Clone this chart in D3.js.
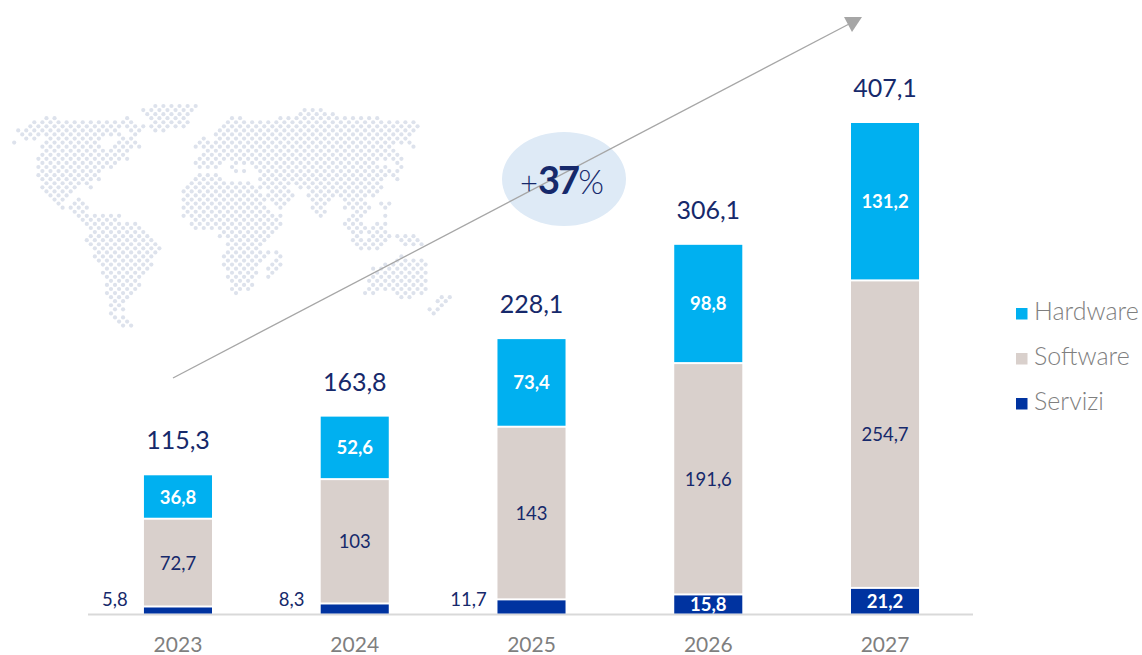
<!DOCTYPE html>
<html><head><meta charset="utf-8">
<script src="https://cdn.jsdelivr.net/npm/d3@7"></script>
<style>html,body{margin:0;background:#fff}svg{display:block}text{font-family:Lato,"Noto Sans",sans-serif}</style>
</head><body><svg id="c" width="1142" height="655"></svg>
<script>
const years=["2023","2024","2025","2026","2027"];
const servizi=[5.8,8.3,11.7,15.8,21.2];
const software=[72.7,103,143,191.6,254.7];
const hardware=[36.8,52.6,73.4,98.8,131.2];
const totals=[115.3,163.8,228.1,306.1,407.1];
const seriesNames=["Servizi","Software","Hardware"];
const seriesColors=["#0033a0","#d9d0cc","#00b0f0"];
const legendOrder=["Hardware","Software","Servizi"];
const growth=["+","37","%"];
// World map dot silhouette: [row, from, to] in the map's own grid units
const mapSpans=[[48,466,590],[60,430,575],[72,442,575],[85,454,550],[97,465,565],[109,450,550],[121,465,490],
[85,130,160],[85,365,395],[97,95,300],[97,320,410],[109,85,430],[121,60,130],[121,145,340],[121,390,420],[133,50,110],[133,145,330],[133,355,360],[133,395,415],[145,70,100],[145,145,310],[145,355,400],[157,38,38],[157,145,300],[157,345,415],[170,130,305],[170,335,420],[182,130,385],[182,415,415],[194,130,370],[206,120,385],[218,120,350],[230,120,330],[243,120,310],[255,120,300],[267,120,290],[279,130,270],[292,130,240],[292,270,285],[304,145,215],[316,145,205],[328,160,200],[328,230,240],[340,170,190],[340,215,250],[352,185,265],[365,220,265],
[377,230,360],[389,245,350],[401,255,265],[401,285,410],[413,275,415],[425,270,425],[438,265,440],[450,265,470],[462,265,470],[474,275,485],[486,285,470],[498,280,460],[511,295,450],[523,305,460],[535,315,440],[547,315,430],[559,320,420],[571,320,415],[584,320,420],[596,320,405],[608,315,395],[620,325,385],[632,330,370],[644,325,365],[657,335,375],[669,325,345],[681,340,385],[693,350,385],[705,365,395],
[60,915,970],[72,905,1005],[85,695,725],[85,845,1145],[97,685,1245],[109,670,1265],[121,660,1250],[133,650,1240],[145,605,625],[145,660,1220],[157,595,635],[157,650,1240],[170,585,1170],[170,1230,1235],[182,610,1180],[182,1240,1240],[194,600,1190],[206,590,1205],[218,585,660],[218,710,1130],[218,1190,1205],[230,600,650],[230,680,690],[230,760,1150],[230,1190,1205],[243,710,740],[243,770,1170],[243,1190,1200],[255,600,650],[255,780,1125],[255,1150,1180],[267,570,670],[267,780,1140],[267,1190,1205],[279,560,760],[279,790,1130],[279,1190,1190],[292,560,765],[292,780,860],[292,890,1145],[304,550,775],[304,805,860],[304,925,1140],[316,550,780],[316,805,875],[316,925,1120],[328,550,790],[328,805,860],[328,940,1000],[328,1020,1100],[340,550,790],[340,815,860],[340,955,990],[340,1030,1110],[340,1150,1165],[352,550,800],[352,830,845],[352,940,970],[352,1040,1110],[352,1150,1165],[365,550,800],[365,955,970],[365,1065,1105],[377,550,810],[377,845,850],[377,965,970],[377,1060,1095],[377,1150,1170],
[389,575,840],[389,1040,1080],[401,575,850],[401,1040,1080],[401,1130,1150],[413,585,620],[413,640,830],[413,1050,1090],[413,1115,1160],[425,660,820],[425,1065,1090],[425,1110,1170],[438,660,810],[438,1065,1085],[438,1110,1180],[438,1195,1205],[438,1220,1250],[450,680,790],[450,1065,1110],[450,1115,1165],[450,1210,1260],[462,680,790],[462,1075,1145],[462,1220,1280],[474,680,770],[474,1090,1140],[474,1285,1290],
[486,680,800],[498,675,795],[511,670,780],[523,675,780],[535,685,770],[547,685,770],[559,690,760],[571,695,760],[584,695,765],[596,700,755],[608,710,715],
[486,830,840],[498,840,850],[511,825,840],[523,815,850],[535,805,830],[547,805,820],[559,810,810],
[486,1200,1205],[498,1190,1215],[511,1180,1260],[523,1160,1270],[535,1125,1280],[547,1115,1280],[559,1115,1280],[571,1110,1290],[584,1125,1260],[596,1105,1270],[608,1100,1135],[608,1185,1260],[620,1210,1240],[632,1225,1230],
[608,1345,1350],[620,1330,1365],[632,1320,1345],[644,1310,1335],[657,1295,1320],[669,1285,1310]];

const svg=d3.select("#c");
const navy="#16296b", grey="#7f7f7f";

// map
const mapX=d3.scaleLinear().domain([0,1410]).range([0,470]);
const mapY=d3.scaleLinear().domain([0,750]).range([90,340]);
const dots=[];
mapSpans.forEach(([y,a,b])=>{
  const r=Math.round((y-48)/12.2), off=(r%2===0)?466%24.2:454%24.2;
  for(let k=0;k<60;k++){const x=off+24.2*k; if(x>=a-7&&x<=b+7) dots.push([x,48+12.2*r]);}
});
svg.append("g").selectAll("circle").data(dots).join("circle")
  .attr("cx",d=>mapX(d[0])).attr("cy",d=>mapY(d[1])).attr("r",2.1).attr("fill","#dde2ec");

// scales
const x=d3.scaleBand().domain(years).range([89.5,973.5]).paddingInner(0.615).paddingOuter(0.308);
const y=d3.scaleLinear().domain([0,407.1]).range([613.5,122]);
const table=years.map((yr,i)=>({year:yr,Servizi:servizi[i],Software:software[i],Hardware:hardware[i]}));
const stacked=d3.stack().keys(seriesNames)(table);
const color=d3.scaleOrdinal(seriesNames,seriesColors);

// ellipse
svg.append("ellipse").attr("cx",564).attr("cy",179).attr("rx",62).attr("ry",47).attr("fill","#deeaf6");

// arrow
svg.append("line").attr("x1",173).attr("y1",378).attr("x2",851).attr("y2",23)
 .attr("stroke","#a6a6a6").attr("stroke-width",1.3);
svg.append("path").attr("d",d3.line()([[844,17],[862,17],[852,32]])+"Z").attr("fill","#a6a6a6");

// growth label
const gt=svg.append("text").attr("x",562).attr("y",194).attr("text-anchor","middle").attr("fill",navy);
gt.append("tspan").text(growth[0]).attr("font-size",31).attr("font-weight",300);
gt.append("tspan").text(growth[1]).attr("font-size",38).attr("font-weight",700).attr("letter-spacing",-2);
gt.append("tspan").text(growth[2]).attr("font-size",33).attr("font-weight",300);

// axis baseline
svg.append("line").attr("x1",88).attr("x2",973).attr("y1",614.5).attr("y2",614.5).attr("stroke","#d9d9d9").attr("stroke-width",2);

// bars
const fmt=v=>String(v).replace(".",",");
stacked.forEach(s=>{
  svg.append("g").selectAll("rect").data(s).join("rect")
   .attr("x",d=>x(d.data.year)).attr("width",x.bandwidth())
   .attr("y",d=>y(d[1])+1).attr("height",d=>Math.max(0,y(d[0])-y(d[1])-(s.key==="Servizi"?1:2)))
   .attr("fill",color(s.key));
});

// inside labels
stacked.forEach(s=>{
  svg.append("g").selectAll("text").data(s.filter(d=>!(s.key==="Servizi"&&d[1]<12))).join("text")
   .attr("x",d=>x(d.data.year)+x.bandwidth()/2).attr("y",d=>(y(d[0])+y(d[1]))/2+7)
   .attr("text-anchor","middle").attr("font-size",18.5)
   .attr("font-weight",s.key==="Software"?400:700)
   .attr("fill",s.key==="Software"?navy:"#fff")
   .text(d=>fmt(+(d[1]-d[0]).toFixed(1)));
});
// outside servizi labels
svg.append("g").selectAll("text").data(stacked[0].filter(d=>d[1]<12)).join("text")
 .attr("x",d=>x(d.data.year)-29).attr("y",606).attr("text-anchor","middle").attr("font-size",18.5).attr("fill",navy)
 .text(d=>fmt(d[1]));

// totals
svg.append("g").selectAll("text").data(totals).join("text")
 .attr("x",(d,i)=>x(years[i])+x.bandwidth()/2).attr("y",(d,i)=>y(d)-25)
 .attr("text-anchor","middle").attr("font-size",25).attr("fill",navy).text(fmt);

// year labels
svg.append("g").selectAll("text").data(years).join("text")
 .attr("x",d=>x(d)+x.bandwidth()/2).attr("y",652).attr("text-anchor","middle").attr("font-size",21).attr("fill",grey).text(d=>d);

// legend
const ly=d3.scalePoint().domain(legendOrder).range([313.5,403.5]);
const lg=svg.append("g").selectAll("g").data(legendOrder).join("g");
lg.append("rect").attr("x",1016).attr("y",d=>ly(d)-5.5).attr("width",11.5).attr("height",11.5).attr("fill",d=>color(d));
lg.append("text").attr("x",1034).attr("y",d=>ly(d)+6).attr("font-size",25).attr("font-weight",300).attr("fill",grey).text(d=>d);
</script></body></html>
